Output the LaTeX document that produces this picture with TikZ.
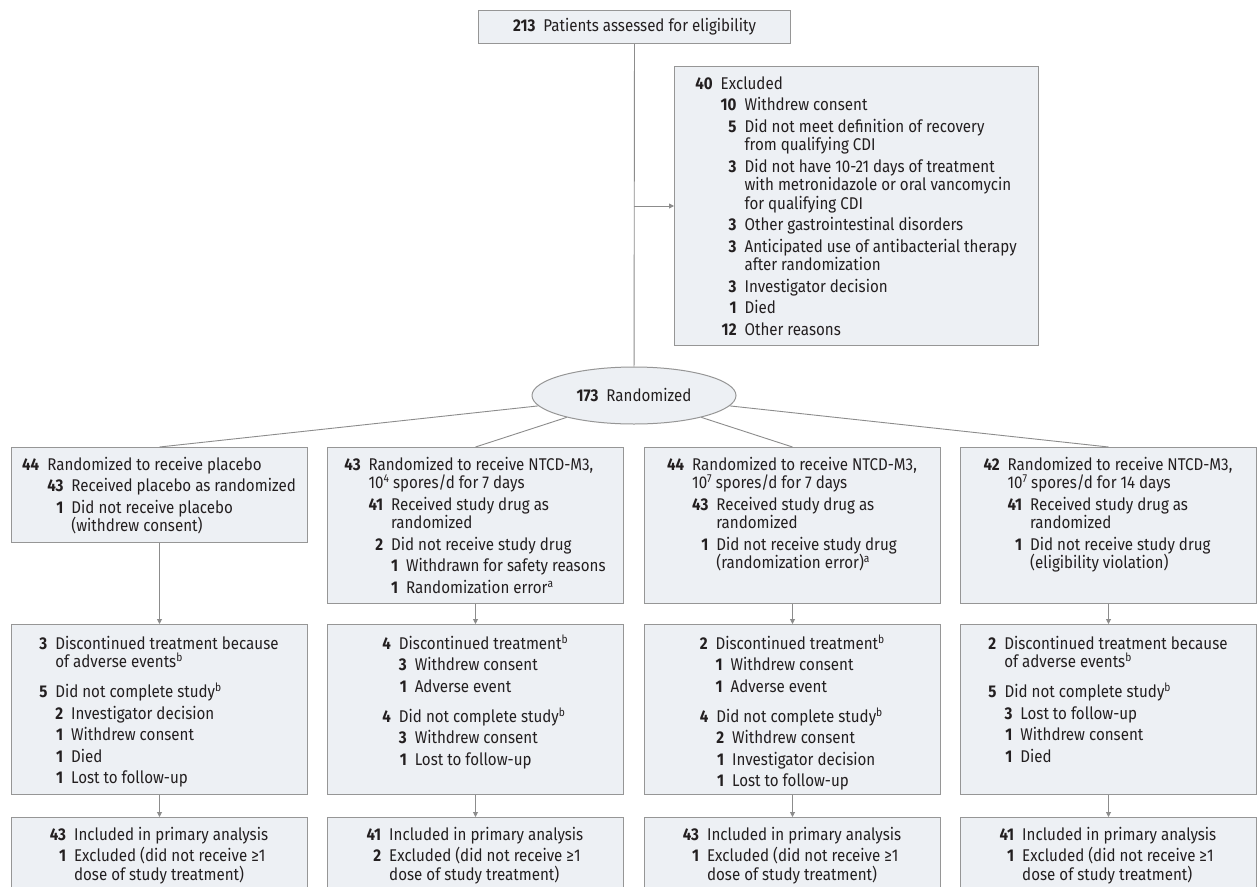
\documentclass[tikz,border=0pt]{standalone}
\usepackage{fontspec}
\usepackage{calc}
\setmainfont{Fira Sans}[FakeStretch=0.89]
\usetikzlibrary{arrows.meta,shapes.geometric}
\definecolor{boxfill}{RGB}{237,240,244}
\definecolor{bordergray}{RGB}{150,150,150}
\definecolor{linegray}{RGB}{140,140,140}
\definecolor{textcol}{RGB}{35,31,32}
\newlength\nw \newlength\tsa \newlength\tsb \newlength\tsc \newlength\curts \newlength\gapw
\setlength\gapw{8pt}
\newcommand\La[3]{\settowidth\nw{\bfseries #1}\setlength\tsa{\nw+\gapw}\setlength\curts{\tsa}%
  \hbox{\hbox to\nw{\hfill\bfseries #2}\hspace*{\gapw}#3}}
\newcommand\Lb[3]{\settowidth\nw{\bfseries #1}\setlength\tsb{\tsa+\nw+\gapw}\setlength\curts{\tsb}%
  \hbox{\hspace*{\tsa}\hbox to\nw{\hfill\bfseries #2}\hspace*{\gapw}#3}}
\newcommand\Lc[3]{\settowidth\nw{\bfseries #1}\setlength\tsc{\tsb+\nw+\gapw}\setlength\curts{\tsc}%
  \hbox{\hspace*{\tsb}\hbox to\nw{\hfill\bfseries #2}\hspace*{\gapw}#3}}
\newcommand\C[1]{\hbox{\hspace*{\curts}#1}}
\newcommand\I{\vskip 3pt}
\newcommand\G{\vskip 11.5pt}
\newcommand\blk[1]{\vtop{\baselineskip=18.5pt\lineskiplimit=-1000pt\lineskip=0pt #1}}
\newcommand\supx[1]{\raisebox{6pt}{\fontsize{11.5}{12}\selectfont #1}}
\begin{document}
\begin{tikzpicture}[x=1pt,y=-1pt,
  box/.style={draw=bordergray, fill=boxfill, line width=1pt, minimum width=296pt, anchor=north west, inner sep=0pt},
  txt/.style={inner sep=0pt, anchor=base, text=textcol, font=\fontsize{17}{18.5}\selectfont},
  conn/.style={draw=linegray, line width=0.9pt},
  arr/.style={conn, -{Triangle[length=5pt,width=5pt]}}]
\useasboundingbox (0,0) rectangle (1257,886);
\fill[white] (0,0) rectangle (1257,886);
\clip (0,0) rectangle (1257,886);

% top
\node[box, minimum width=312pt, minimum height=33pt, txt, anchor=north west, inner sep=0pt] (top) at (478,10)
  {\textbf{213}\hspace{\gapw}Patients assessed for eligibility};

% excluded
\node[box, minimum width=364pt, minimum height=279pt] (excl) at (674,66) {};
\node[txt] (exclt) at (856,89) {\blk{%
\La{40}{40}{Excluded}\I
\Lb{10}{10}{Withdrew consent}\I
\Lb{10}{5}{Did not meet definition of recovery}
\C{from qualifying CDI}\I
\Lb{10}{3}{Did not have 10-21 days of treatment}
\C{with metronidazole or oral vancomycin}
\C{for qualifying CDI}\I
\Lb{10}{3}{Other gastrointestinal disorders}\I
\Lb{10}{3}{Anticipated use of antibacterial therapy}
\C{after randomization}\I
\Lb{10}{3}{Investigator decision}\I
\Lb{10}{1}{Died}\I
\Lb{10}{12}{Other reasons}}};

% randomized
\node[ellipse, draw=bordergray, fill=boxfill, line width=1pt, minimum width=204pt, minimum height=57pt, inner sep=0pt,
  text=textcol, font=\fontsize{17}{18.5}\selectfont] (rand) at (634,395.5) {\textbf{173}\hspace{\gapw}Randomized};

\coordinate (j) at (634,206);
\draw[conn] (top) -- (rand);
\draw[arr] (j) -- (excl);

% row 1
\node[box, minimum height=95pt] (b11) at (11,447) {};
\node[box, minimum height=156pt] (b12) at (327,447) {};
\node[box, minimum height=156pt] (b13) at (644,447) {};
\node[box, minimum height=156pt] (b14) at (960,447) {};

\node[txt] (t11) at (159,470) {\blk{%
\La{44}{44}{Randomized to receive placebo}\I
\Lb{43}{43}{Received placebo as randomized}\I
\Lb{43}{1}{Did not receive placebo}
\C{(withdrew consent)}}};
\node[txt] (t12) at (475,470) {\blk{%
\La{43}{43}{Randomized to receive NTCD-M3,}
\C{10\supx{4} spores/d for 7 days}\I
\Lb{41}{41}{Received study drug as}
\C{randomized}\I
\Lb{41}{2}{Did not receive study drug}\I
\Lc{1}{1}{Withdrawn for safety reasons}\I
\Lc{1}{1}{Randomization error\supx{a}}}};
\node[txt] (t13) at (792,470) {\blk{%
\La{44}{44}{Randomized to receive NTCD-M3,}
\C{10\supx{7} spores/d for 7 days}\I
\Lb{43}{43}{Received study drug as}
\C{randomized}\I
\Lb{43}{1}{Did not receive study drug}
\C{(randomization error)\supx{a}}}};
\node[txt] (t14) at (1108,470) {\blk{%
\La{42}{42}{Randomized to receive NTCD-M3,}
\C{10\supx{7} spores/d for 14 days}\I
\Lb{41}{41}{Received study drug as}
\C{randomized}\I
\Lb{41}{1}{Did not receive study drug}
\C{(eligibility violation)}}};

\foreach \b in {b11,b12,b13,b14} \draw[conn] (rand) -- (\b.north);

% row 2
\node[box, minimum height=170pt] (b21) at (11,624) {};
\node[box, minimum height=170pt] (b22) at (327,624) {};
\node[box, minimum height=170pt] (b23) at (644,624) {};
\node[box, minimum height=170pt] (b24) at (960,624) {};

\node[txt] (t21) at (159,649) {\blk{%
\La{3}{3}{Discontinued treatment because}
\C{of adverse events\supx{b}}\G
\La{3}{5}{Did not complete study\supx{b}}\I
\Lb{2}{2}{Investigator decision}\I
\Lb{2}{1}{Withdrew consent}\I
\Lb{2}{1}{Died}\I
\Lb{2}{1}{Lost to follow-up}}};
\node[txt] (t22) at (475,649) {\blk{%
\La{4}{4}{Discontinued treatment\supx{b}}\I
\Lb{3}{3}{Withdrew consent}\I
\Lb{3}{1}{Adverse event}\G
\La{4}{4}{Did not complete study\supx{b}}\I
\Lb{3}{3}{Withdrew consent}\I
\Lb{3}{1}{Lost to follow-up}}};
\node[txt] (t23) at (792,649) {\blk{%
\La{2}{2}{Discontinued treatment\supx{b}}\I
\Lb{1}{1}{Withdrew consent}\I
\Lb{1}{1}{Adverse event}\G
\La{4}{4}{Did not complete study\supx{b}}\I
\Lb{2}{2}{Withdrew consent}\I
\Lb{2}{1}{Investigator decision}\I
\Lb{2}{1}{Lost to follow-up}}};
\node[txt] (t24) at (1108,649) {\blk{%
\La{2}{2}{Discontinued treatment because}
\C{of adverse events\supx{b}}\G
\La{5}{5}{Did not complete study\supx{b}}\I
\Lb{3}{3}{Lost to follow-up}\I
\Lb{3}{1}{Withdrew consent}\I
\Lb{3}{1}{Died}}};

\draw[arr] (b11) -- (b21);
\draw[arr] (b12) -- (b22);
\draw[arr] (b13) -- (b23);
\draw[arr] (b14) -- (b24);

% row 3
\node[box, minimum height=90pt] (b31) at (11,817) {};
\node[box, minimum height=90pt] (b32) at (327,817) {};
\node[box, minimum height=90pt] (b33) at (644,817) {};
\node[box, minimum height=90pt] (b34) at (960,817) {};

\node[txt] (t31) at (159,840) {\blk{%
\La{43}{43}{Included in primary analysis}\I
\La{43}{1}{Excluded (did not receive ≥1}
\C{dose of study treatment)}}};
\node[txt] (t32) at (475,840) {\blk{%
\La{41}{41}{Included in primary analysis}\I
\La{41}{2}{Excluded (did not receive ≥1}
\C{dose of study treatment)}}};
\node[txt] (t33) at (792,840) {\blk{%
\La{43}{43}{Included in primary analysis}\I
\La{43}{1}{Excluded (did not receive ≥1}
\C{dose of study treatment)}}};
\node[txt] (t34) at (1108,840) {\blk{%
\La{41}{41}{Included in primary analysis}\I
\La{41}{1}{Excluded (did not receive ≥1}
\C{dose of study treatment)}}};

\draw[arr] (b21) -- (b31);
\draw[arr] (b22) -- (b32);
\draw[arr] (b23) -- (b33);
\draw[arr] (b24) -- (b34);
\end{tikzpicture}
\end{document}
